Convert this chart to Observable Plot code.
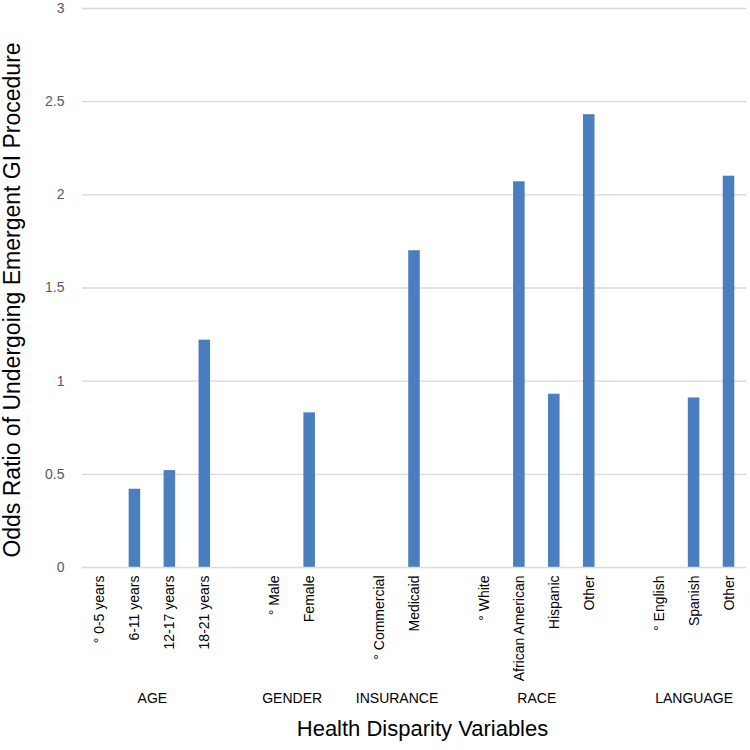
<!DOCTYPE html>
<html>
<head>
<meta charset="utf-8">
<script src="https://cdn.jsdelivr.net/npm/d3@7"></script>
<script src="https://cdn.jsdelivr.net/npm/@observablehq/plot@0.6"></script>
<style>
  html, body { margin: 0; padding: 0; background: #fff; }
  #chart svg { display: block; }
</style>
</head>
<body>
<div id="chart"></div>
<script>
// ---- data ----
const groupNames = ["AGE", "GENDER", "INSURANCE", "RACE", "LANGUAGE"];
const categories = ["° 0-5 years", "6-11 years", "12-17 years", "18-21 years",
                    "° Male", "Female",
                    "° Commercial", "Medicaid",
                    "° White", "African American", "Hispanic", "Other",
                    "° English", "Spanish", "Other"];
const categoryGroups = ["AGE", "AGE", "AGE", "AGE",
                        "GENDER", "GENDER",
                        "INSURANCE", "INSURANCE",
                        "RACE", "RACE", "RACE", "RACE",
                        "LANGUAGE", "LANGUAGE", "LANGUAGE"];
const oddsRatios = [0, 0.42, 0.52, 1.22,
                    0, 0.83,
                    0, 1.70,
                    0, 2.07, 0.93, 2.43,
                    0, 0.91, 2.10];
const yTicks = [0, 0.5, 1, 1.5, 2, 2.5, 3];
const yTitle = "Odds Ratio of Undergoing Emergent GI Procedure";
const xTitle = "Health Disparity Variables";

// ---- build table ----
const rows = categories.map((c, i) => ({
  key: categoryGroups[i] + "|" + c,
  label: c,
  group: categoryGroups[i],
  value: oddsRatios[i]
}));
const domain = [];
groupNames.forEach((g, gi) => {
  if (gi > 0) domain.push("gap|" + gi);
  rows.filter(r => r.group === g).forEach(r => domain.push(r.key));
});

const W = 750, H = 750;
const mL = 82, mR = 4, mT = 8, mB = 183;
const step = (W - mL - mR) / domain.length;

// group label anchors: middle category of each group (half-step shift for even sizes)
const groupLabels = groupNames.map(g => {
  const keys = rows.filter(r => r.group === g).map(r => r.key);
  const mid = (keys.length - 1) / 2;
  return {group: g, key: keys[Math.floor(mid)], shift: (mid - Math.floor(mid)) * step};
});

const font = "'Liberation Sans', Arial, sans-serif";
const inner = 0.67;

const plot = Plot.plot({
  width: W,
  height: H,
  marginLeft: mL,
  marginRight: mR,
  marginTop: mT,
  marginBottom: mB,
  style: {fontFamily: font, background: "#fff"},
  x: {domain, paddingInner: inner, paddingOuter: inner / 2, align: 0.5, round: false, axis: null},
  y: {domain: [0, 3], axis: null},
  marks: [
    Plot.gridY(yTicks.filter(d => d > 0), {stroke: "#d9d9d9", strokeOpacity: 1, strokeWidth: 1.3}),
    Plot.barY(rows, {x: "key", y: "value", fill: "#4a7ebf"}),
    Plot.ruleY([0], {stroke: "#d8e4bc", strokeWidth: 1.5}),
    Plot.axisY({ticks: yTicks, tickSize: 0, tickPadding: 18, tickFormat: d => String(d),
                fontSize: 14, fill: "#595959", label: null}),
    Plot.axisX({tickSize: 0, tickPadding: 8, tickRotate: -90, fontSize: 14, fill: "#000",
                tickFormat: k => k.startsWith("gap|") ? "" : k.split("|")[1], label: null}),
    ...groupLabels.map(gl => Plot.text([gl], {
      x: "key", text: "group", frameAnchor: "bottom", dy: 135, dx: gl.shift,
      fontSize: 14, fill: "#000"
    })),
    Plot.text([yTitle], {text: d => d, frameAnchor: "left", textAnchor: "middle", rotate: -90,
                         dx: -70, dy: 12, fontSize: 23, fill: "#000"}),
    Plot.text([xTitle], {text: d => d, frameAnchor: "bottom", dy: 168, dx: 8,
                         fontSize: 22, fill: "#000"})
  ]
});
document.getElementById("chart").appendChild(plot);
</script>
</body>
</html>
